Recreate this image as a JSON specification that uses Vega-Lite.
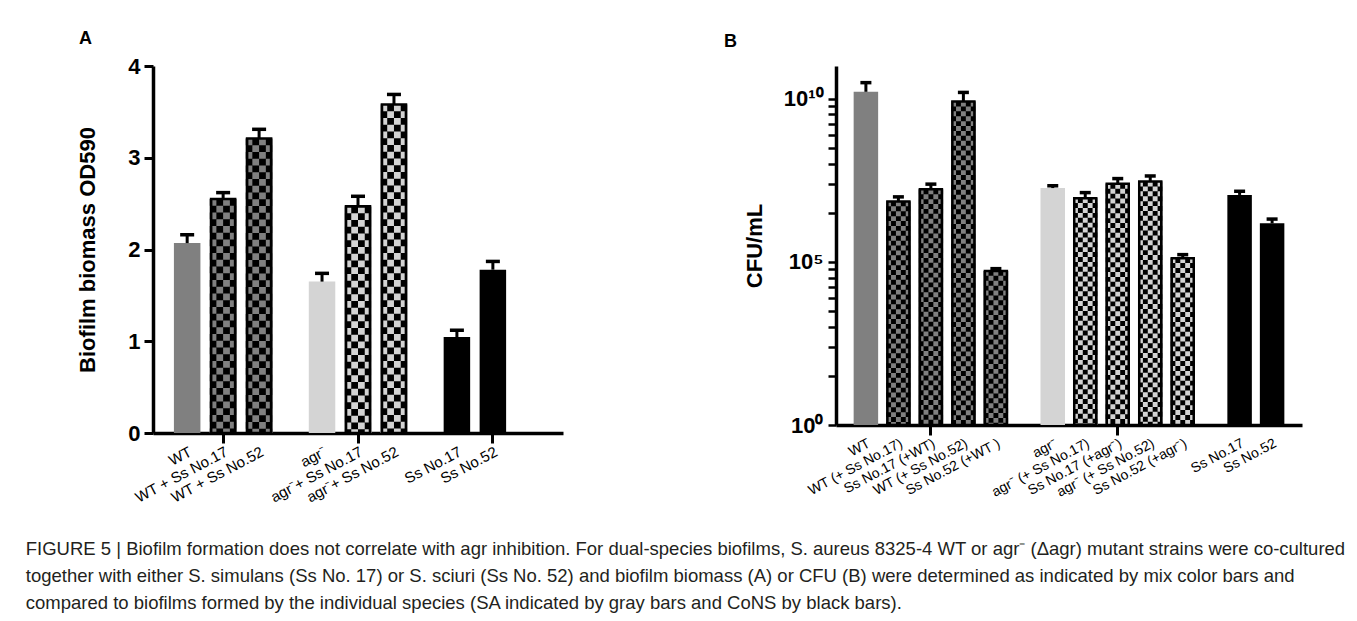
{
  "$schema": "https://vega.github.io/schema/vega-lite/v6.json",
  "padding": {"left": 25, "top": 30, "right": 5, "bottom": 5},
  "background": "white",
  "spacing": 161,
  "datasets": {
    "a": [
      {"label": "WT", "kind": "WT", "value": 2.07, "err": 2.16},
      {"label": "WT + Ss No.17", "kind": "WTmix", "value": 2.55, "err": 2.62},
      {"label": "WT + Ss No.52", "kind": "WTmix", "value": 3.21, "err": 3.31},
      {"label": "agr⁻", "kind": "agr", "value": 1.65, "err": 1.74},
      {"label": "agr⁻+ Ss No.17", "kind": "agrmix", "value": 2.47, "err": 2.58},
      {"label": "agr⁻+ Ss No.52", "kind": "agrmix", "value": 3.58, "err": 3.69},
      {"label": "Ss No.17", "kind": "CoNS", "value": 1.045, "err": 1.12},
      {"label": "Ss No.52", "kind": "CoNS", "value": 1.78, "err": 1.87}
    ],
    "b": [
      {"label": "WT", "kind": "WT", "value": 1.62e10, "err": 3.09e10},
      {"label": "WT (+ Ss No.17)", "kind": "WTmix", "value": 7.08e6, "err": 9.77e6},
      {"label": "Ss No.17 (+WT)", "kind": "WTmix", "value": 1.66e7, "err": 2.40e7},
      {"label": "WT (+ Ss No.52)", "kind": "WTmix", "value": 8.13e9, "err": 1.55e10},
      {"label": "Ss No.52 (+WT )", "kind": "WTmix", "value": 5.25e4, "err": 6.17e4},
      {"label": "agr⁻", "kind": "agr", "value": 1.82e7, "err": 2.14e7},
      {"label": "agr⁻ (+ Ss No.17)", "kind": "agrmix", "value": 8.91e6, "err": 1.32e7},
      {"label": "Ss No.17 (+agr⁻)", "kind": "agrmix", "value": 2.45e7, "err": 3.55e7},
      {"label": "agr⁻ (+ Ss No.52)", "kind": "agrmix", "value": 2.88e7, "err": 4.27e7},
      {"label": "Ss No.52 (+agr⁻)", "kind": "agrmix", "value": 1.29e5, "err": 1.66e5},
      {"label": "Ss No.17", "kind": "CoNS", "value": 1.12e7, "err": 1.45e7},
      {"label": "Ss No.52", "kind": "CoNS", "value": 1.51e6, "err": 2.04e6}
    ]
  },
  "title": {
    "text": [
      "FIGURE 5 | Biofilm formation does not correlate with agr inhibition. For dual-species biofilms, S. aureus 8325-4 WT or agr⁻ (Δagr) mutant strains were co-cultured",
      "together with either S. simulans (Ss No. 17) or S. sciuri (Ss No. 52) and biofilm biomass (A) or CFU (B) were determined as indicated by mix color bars and",
      "compared to biofilms formed by the individual species (SA indicated by gray bars and CoNS by black bars)."
    ],
    "orient": "bottom",
    "anchor": "start",
    "frame": "bounds",
    "dx": -51,
    "offset": 35,
    "fontSize": 18.5,
    "fontWeight": "normal",
    "font": "Liberation Sans",
    "lineHeight": 27,
    "color": "#231f20"
  },
  "hconcat": [
    {
      "width": 410,
      "height": 367,
      "data": {"name": "a"},
      "title": {"text": "A", "anchor": "start", "frame": "group", "dx": -74, "offset": 7, "fontSize": 18, "fontWeight": "bold", "font": "Liberation Sans", "color": "black"},
      "encoding": {
        "x": {
          "field": "label", "type": "nominal", "sort": null, "title": null,
          "scale": {
            "domain": ["_0","_1","_2","WT","_4","_5","_6","WT + Ss No.17","_8","_9","_10","WT + Ss No.52","_12","_13","_14","_15","_16","_17","agr⁻","_19","_20","_21","agr⁻+ Ss No.17","_23","_24","_25","agr⁻+ Ss No.52","_27","_28","_29","_30","_31","_32","Ss No.17","_34","_35","_36","Ss No.52","_38","_39","_40","_41","_42","_43","_44"],
            "paddingInner": 0, "paddingOuter": 0.3
          },
          "axis": {
            "values": ["WT","WT + Ss No.17","WT + Ss No.52","agr⁻","agr⁻+ Ss No.17","agr⁻+ Ss No.52","Ss No.17","Ss No.52"],
            "labelAngle": -28, "labelAlign": "right", "labelBaseline": "top",
            "labelFontSize": 15, "labelPadding": 1, "labelOverlap": false, "labelBound": false, "labelLimit": 300,
            "labelColor": "black", "labelFont": "Liberation Sans",
            "tickSize": 10, "tickWidth": 3, "tickColor": "black",
            "tickOpacity": {"condition": {"test": "datum.value === 'WT + Ss No.17' || datum.value === 'agr⁻+ Ss No.17' || datum.value === 'Ss No.52'", "value": 1}, "value": 0},
            "domainWidth": 3.5, "domainColor": "black", "grid": false
          }
        }
      },
      "layer": [
        {
          "mark": {"type": "bar", "width": 26.5},
          "encoding": {
            "y": {
              "field": "value", "type": "quantitative", "stack": null,
              "scale": {"domain": [0, 4], "nice": false, "zero": true},
              "axis": {"values": [0,1,2,3,4], "format": "d", "title": "Biofilm biomass OD590", "tickSize": 9, "tickWidth": 3, "tickColor": "black", "domainWidth": 3.5, "domainColor": "black", "labelFontSize": 22, "labelFontWeight": "bold", "labelColor": "black", "labelPadding": 4, "titleFontSize": 22, "titleFontWeight": "bold", "titleColor": "black", "titlePadding": 28, "grid": false, "labelFont": "Liberation Sans", "titleFont": "Liberation Sans"}
            },
            "fill": {"field": "kind", "type": "nominal", "scale": {"domain": ["WT","agr","CoNS","WTmix","agrmix"], "range": ["#808080","#d4d4d4","#000000","#000000","#000000"]}, "legend": null}
          }
        },
        {
          "transform": [{"filter": {"field": "kind", "oneOf": ["WTmix","agrmix"]}}],
          "mark": {"type": "rule", "strokeWidth": 6.75, "strokeDash": [6.75, 6.75], "strokeDashOffset": 0, "xOffset": -10.125},
          "encoding": {"y": {"field": "value", "type": "quantitative"}, "y2": {"datum": 0},
            "stroke": {"field": "kind", "type": "nominal", "scale": {"domain": ["WTmix","agrmix"], "range": ["#808080","#d3d3d3"]}, "legend": null}}
        },
        {
          "transform": [{"filter": {"field": "kind", "oneOf": ["WTmix","agrmix"]}}],
          "mark": {"type": "rule", "strokeWidth": 6.75, "strokeDash": [6.75, 6.75], "strokeDashOffset": 6.75, "xOffset": -3.375},
          "encoding": {"y": {"field": "value", "type": "quantitative"}, "y2": {"datum": 0},
            "stroke": {"field": "kind", "type": "nominal", "scale": {"domain": ["WTmix","agrmix"], "range": ["#808080","#d3d3d3"]}, "legend": null}}
        },
        {
          "transform": [{"filter": {"field": "kind", "oneOf": ["WTmix","agrmix"]}}],
          "mark": {"type": "rule", "strokeWidth": 6.75, "strokeDash": [6.75, 6.75], "strokeDashOffset": 0, "xOffset": 3.375},
          "encoding": {"y": {"field": "value", "type": "quantitative"}, "y2": {"datum": 0},
            "stroke": {"field": "kind", "type": "nominal", "scale": {"domain": ["WTmix","agrmix"], "range": ["#808080","#d3d3d3"]}, "legend": null}}
        },
        {
          "transform": [{"filter": {"field": "kind", "oneOf": ["WTmix","agrmix"]}}],
          "mark": {"type": "rule", "strokeWidth": 6.75, "strokeDash": [6.75, 6.75], "strokeDashOffset": 6.75, "xOffset": 10.125},
          "encoding": {"y": {"field": "value", "type": "quantitative"}, "y2": {"datum": 0},
            "stroke": {"field": "kind", "type": "nominal", "scale": {"domain": ["WTmix","agrmix"], "range": ["#808080","#d3d3d3"]}, "legend": null}}
        },
        {
          "transform": [{"filter": {"field": "kind", "oneOf": ["WTmix","agrmix"]}}],
          "mark": {"type": "bar", "width": 24, "fillOpacity": 0, "stroke": "black", "strokeWidth": 2.6},
          "encoding": {"y": {"field": "value", "type": "quantitative", "stack": null}}
        },
        {
          "mark": {"type": "rule", "strokeWidth": 3, "color": "black"},
          "encoding": {"y": {"field": "value", "type": "quantitative"}, "y2": {"field": "err"}}
        },
        {
          "mark": {"type": "tick", "size": 14, "thickness": 3.5, "color": "black", "opacity": 1},
          "encoding": {"y": {"field": "err", "type": "quantitative"}}
        }
      ]
    },
    {
      "width": 466,
      "height": 359,
      "data": {"name": "b"},
      "title": {"text": "B", "anchor": "start", "frame": "group", "dx": -112, "offset": 15, "fontSize": 18, "fontWeight": "bold", "font": "Liberation Sans", "color": "black"},
      "encoding": {
        "x": {
          "field": "label", "type": "nominal", "sort": null, "title": null,
          "scale": {
            "domain": ["_0","_1","_2","WT","_4","_5","_6","WT (+ Ss No.17)","_8","_9","_10","Ss No.17 (+WT)","_12","_13","_14","WT (+ Ss No.52)","_16","_17","_18","Ss No.52 (+WT )","_20","_21","_22","_23","_24","_25","agr⁻","_27","_28","_29","agr⁻ (+ Ss No.17)","_31","_32","_33","Ss No.17 (+agr⁻)","_35","_36","_37","agr⁻ (+ Ss No.52)","_39","_40","_41","Ss No.52 (+agr⁻)","_43","_44","_45","_46","_47","_48","Ss No.17","_50","_51","_52","Ss No.52","_54","_55","_56"],
            "paddingInner": 0, "paddingOuter": 0.18
          },
          "axis": {
            "values": ["WT","WT (+ Ss No.17)","Ss No.17 (+WT)","WT (+ Ss No.52)","Ss No.52 (+WT )","agr⁻","agr⁻ (+ Ss No.17)","Ss No.17 (+agr⁻)","agr⁻ (+ Ss No.52)","Ss No.52 (+agr⁻)","Ss No.17","Ss No.52"],
            "labelAngle": -28, "labelAlign": "right", "labelBaseline": "top",
            "labelFontSize": 14, "labelPadding": 1, "labelOverlap": false, "labelBound": false, "labelLimit": 300,
            "labelColor": "black", "labelFont": "Liberation Sans",
            "tickSize": 10, "tickWidth": 3, "tickColor": "black",
            "tickOpacity": {"condition": {"test": "datum.value === 'Ss No.17 (+WT)' || datum.value === 'Ss No.17 (+agr⁻)'", "value": 1}, "value": 0},
            "domainWidth": 3.5, "domainColor": "black", "grid": false
          }
        }
      },
      "layer": [
        {
          "mark": {"type": "bar", "width": 24.5},
          "encoding": {
            "y": {
              "field": "value", "type": "quantitative", "stack": null,
              "scale": {"type": "log", "domain": [1, 1e11], "nice": false},
              "axis": {
                "values": [1, 32, 243, 1024, 3125, 7776, 16807, 32768, 59049, 100000, 3200000, 24300000, 102400000, 312500000, 777600000, 1680700000, 3276800000, 5904900000, 10000000000],
                "labelExpr": "datum.value == 1 ? '10⁰' : (datum.value == 100000 ? '10⁵' : (datum.value == 10000000000 ? '10¹⁰' : ''))",
                "title": "CFU/mL",
                "tickSize": 8,
                "tickWidth": 2.5, "tickColor": "black", "domainWidth": 3.5, "domainColor": "black",
                "labelFontSize": 22, "labelFontWeight": "bold", "labelColor": "black", "labelPadding": 5,
                "titleFontSize": 22, "titleFontWeight": "bold", "titleColor": "black", "titlePadding": 17, "grid": false,
                "labelFont": "Liberation Sans", "titleFont": "Liberation Sans", "labelOverlap": false
              }
            },
            "y2": {"datum": 1},
            "fill": {"field": "kind", "type": "nominal", "scale": {"domain": ["WT","agr","CoNS","WTmix","agrmix"], "range": ["#808080","#d4d4d4","#000000","#000000","#000000"]}, "legend": null}
          }
        },
        {
          "transform": [{"filter": {"field": "kind", "oneOf": ["WTmix","agrmix"]}}],
          "mark": {"type": "rule", "strokeWidth": 4.9, "strokeDash": [4.9, 4.9], "strokeDashOffset": 0, "xOffset": -9.8},
          "encoding": {"y": {"field": "value", "type": "quantitative"}, "y2": {"datum": 1},
            "stroke": {"field": "kind", "type": "nominal", "scale": {"domain": ["WTmix","agrmix"], "range": ["#808080","#d3d3d3"]}, "legend": null}}
        },
        {
          "transform": [{"filter": {"field": "kind", "oneOf": ["WTmix","agrmix"]}}],
          "mark": {"type": "rule", "strokeWidth": 4.9, "strokeDash": [4.9, 4.9], "strokeDashOffset": 4.9, "xOffset": -4.9},
          "encoding": {"y": {"field": "value", "type": "quantitative"}, "y2": {"datum": 1},
            "stroke": {"field": "kind", "type": "nominal", "scale": {"domain": ["WTmix","agrmix"], "range": ["#808080","#d3d3d3"]}, "legend": null}}
        },
        {
          "transform": [{"filter": {"field": "kind", "oneOf": ["WTmix","agrmix"]}}],
          "mark": {"type": "rule", "strokeWidth": 4.9, "strokeDash": [4.9, 4.9], "strokeDashOffset": 0, "xOffset": 0},
          "encoding": {"y": {"field": "value", "type": "quantitative"}, "y2": {"datum": 1},
            "stroke": {"field": "kind", "type": "nominal", "scale": {"domain": ["WTmix","agrmix"], "range": ["#808080","#d3d3d3"]}, "legend": null}}
        },
        {
          "transform": [{"filter": {"field": "kind", "oneOf": ["WTmix","agrmix"]}}],
          "mark": {"type": "rule", "strokeWidth": 4.9, "strokeDash": [4.9, 4.9], "strokeDashOffset": 4.9, "xOffset": 4.9},
          "encoding": {"y": {"field": "value", "type": "quantitative"}, "y2": {"datum": 1},
            "stroke": {"field": "kind", "type": "nominal", "scale": {"domain": ["WTmix","agrmix"], "range": ["#808080","#d3d3d3"]}, "legend": null}}
        },
        {
          "transform": [{"filter": {"field": "kind", "oneOf": ["WTmix","agrmix"]}}],
          "mark": {"type": "rule", "strokeWidth": 4.9, "strokeDash": [4.9, 4.9], "strokeDashOffset": 0, "xOffset": 9.8},
          "encoding": {"y": {"field": "value", "type": "quantitative"}, "y2": {"datum": 1},
            "stroke": {"field": "kind", "type": "nominal", "scale": {"domain": ["WTmix","agrmix"], "range": ["#808080","#d3d3d3"]}, "legend": null}}
        },
        {
          "transform": [{"filter": {"field": "kind", "oneOf": ["WTmix","agrmix"]}}],
          "mark": {"type": "bar", "width": 22, "fillOpacity": 0, "stroke": "black", "strokeWidth": 2.5},
          "encoding": {"y": {"field": "value", "type": "quantitative", "stack": null}, "y2": {"datum": 1}}
        },
        {
          "mark": {"type": "rule", "strokeWidth": 3, "color": "black"},
          "encoding": {"y": {"field": "value", "type": "quantitative"}, "y2": {"field": "err"}}
        },
        {
          "mark": {"type": "tick", "size": 11, "thickness": 3.5, "color": "black", "opacity": 1},
          "encoding": {"y": {"field": "err", "type": "quantitative"}}
        }
      ]
    }
  ],
  "config": {"view": {"stroke": null}, "font": "Liberation Sans"}
}
